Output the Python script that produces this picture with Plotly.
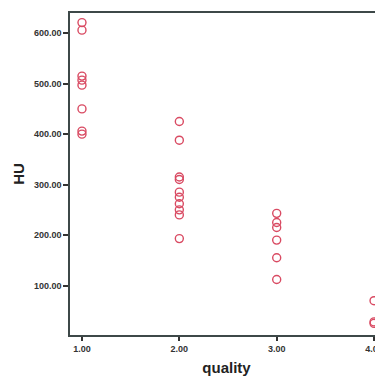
import plotly.graph_objects as go

quality = [1]*8 + [2]*10 + [3]*6 + [4]*3
hu = [621, 606, 515, 507, 497, 450, 406, 400,
      425, 388, 315, 310, 285, 275, 262, 250, 240, 193,
      243, 225, 215, 190, 155, 112,
      70, 28, 25]
x_ticks = [1, 2, 3, 4]
x_labels = ["1.00", "2.00", "3.00", "4.00"]
y_ticks = [100, 200, 300, 400, 500, 600]
y_labels = ["100.00", "200.00", "300.00", "400.00", "500.00", "600.00"]

fig = go.Figure(go.Scatter(
    x=quality, y=hu, mode="markers",
    marker=dict(symbol="circle-open", size=8, color="#d94a62", line=dict(width=1.4)),
    cliponaxis=False,
))

# page body adds an 8px offset; size/margins compensate for it
fig.update_layout(
    width=375, height=369,
    margin=dict(l=62, r=0, t=5, b=42),
    plot_bgcolor="white", paper_bgcolor="white",
    showlegend=False,
    font=dict(family="Liberation Sans", color="#222"),
)
fig.update_xaxes(
    range=[0.877, 4.092], tickvals=x_ticks, ticktext=x_labels,
    showgrid=False, zeroline=False, showline=True, linecolor="#3d4848", linewidth=1.5,
    mirror=True, ticks="outside", ticklen=4, tickwidth=1.5, tickcolor="#333",
    tickfont=dict(size=9, family="Liberation Sans", weight="bold", color="#333"),
    title=dict(text="quality", font=dict(size=15, weight="bold", color="#222"), standoff=10),
    automargin=False,
)
fig.update_yaxes(
    range=[2, 640], tickvals=y_ticks, ticktext=y_labels,
    showgrid=False, zeroline=False, showline=True, linecolor="#3d4848", linewidth=1.5,
    ticks="outside", ticklen=5, tickwidth=1.5, tickcolor="#333",
    tickfont=dict(size=9, family="Liberation Sans", weight="bold", color="#333"),
    title=dict(text="HU", font=dict(size=15, weight="bold", color="#222"), standoff=6),
    automargin=False,
)

fig.write_html("out.html")
